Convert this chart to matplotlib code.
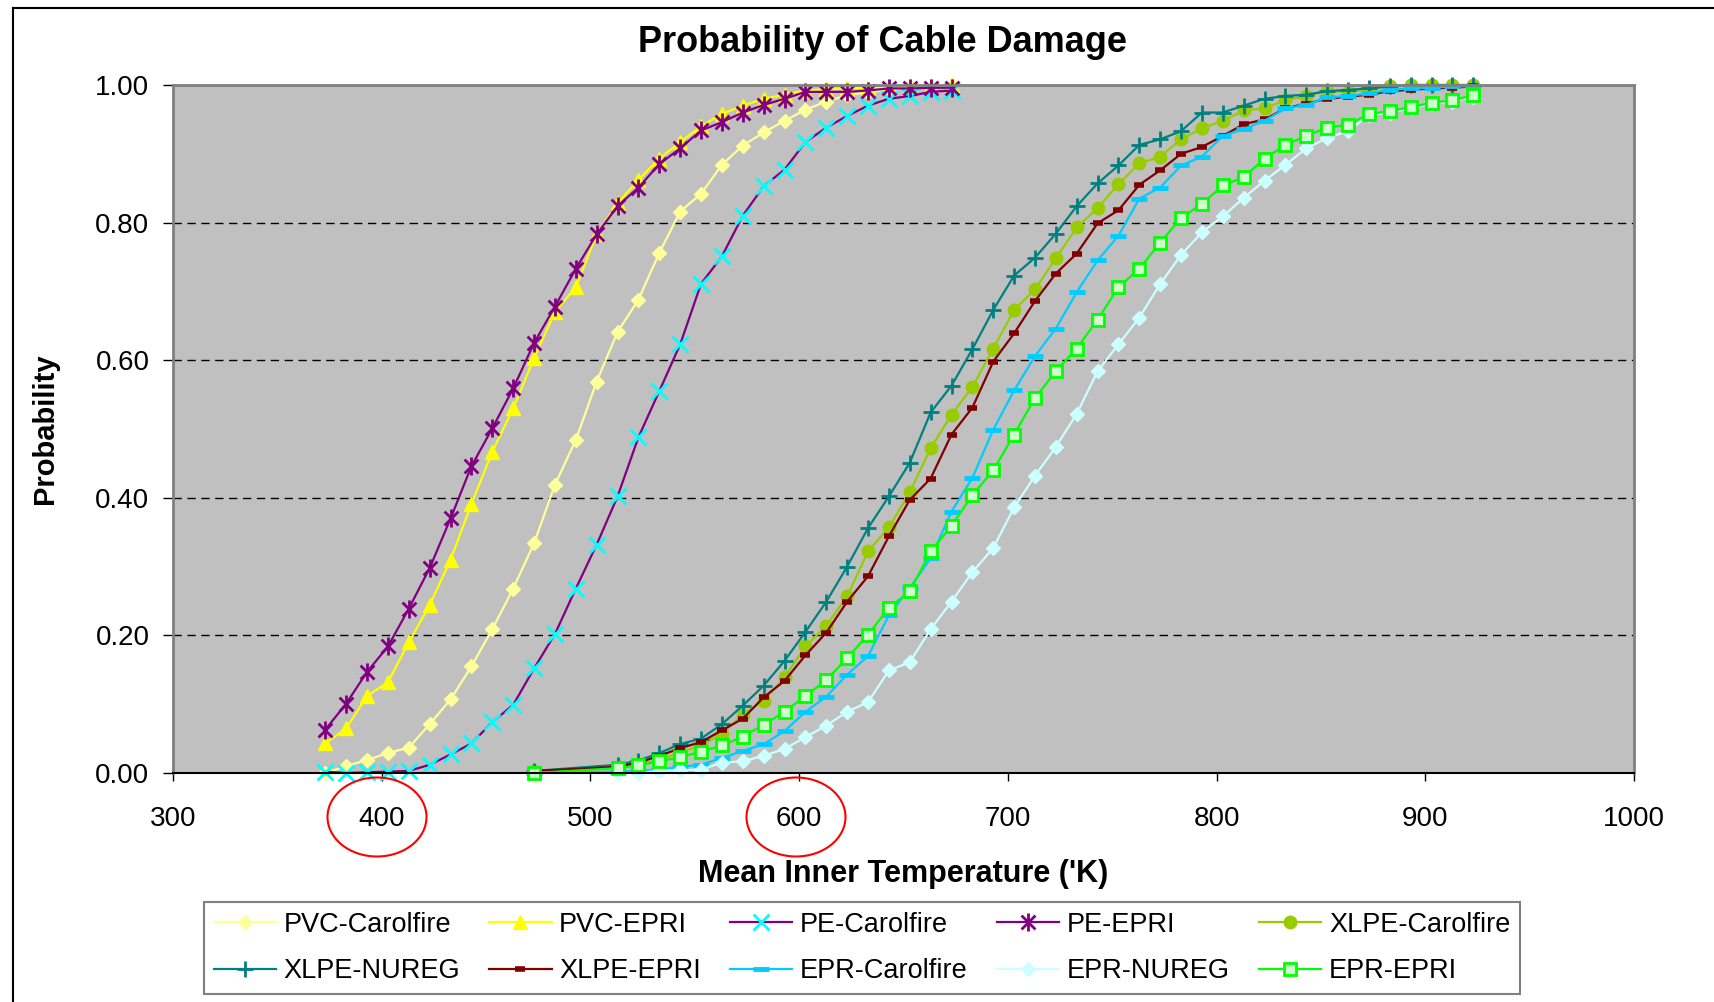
# se importan las bibliotecas
import matplotlib.pyplot as plt
from matplotlib.path import Path
from matplotlib.patches import Ellipse
from matplotlib.lines import Line2D

plt.rcParams['font.family'] = ['Liberation Sans', 'DejaVu Sans']

# temperaturas (K) de cada grupo de cables
temp_izq = list(range(373, 674, 10))
temp_der = [473] + list(range(513, 924, 10))

# probabilidades, grupo PVC / PE
pvc_carolfire = [0.0, 0.010, 0.019, 0.029, 0.037, 0.071, 0.107, 0.155, 0.209, 0.268,
                 0.334, 0.419, 0.484, 0.569, 0.641, 0.688, 0.756, 0.816, 0.842, 0.884,
                 0.912, 0.931, 0.948, 0.964, 0.976, 0.985, 0.990, 0.993, 0.996, 0.998, 1.0]
pvc_epri = [0.043, 0.065, 0.112, 0.132, 0.190, 0.244, 0.310, 0.391, 0.467, 0.530,
            0.603, 0.670, 0.706, 0.783, 0.828, 0.862, 0.893, 0.917, 0.940, 0.958,
            0.970, 0.980, 0.986, 0.992, 0.994, 0.995, 0.996, 0.997, 0.998, 0.999, 1.0]
pe_carolfire = [0.002, 0.0, 0.001, 0.002, 0.003, 0.012, 0.027, 0.043, 0.074, 0.099,
                0.152, 0.202, 0.268, 0.332, 0.402, 0.488, 0.555, 0.623, 0.711, 0.751,
                0.810, 0.853, 0.877, 0.917, 0.938, 0.955, 0.970, 0.980, 0.984, 0.990, 0.992]
pe_epri = [0.063, 0.101, 0.147, 0.184, 0.239, 0.298, 0.370, 0.446, 0.501, 0.559,
           0.625, 0.678, 0.733, 0.783, 0.824, 0.851, 0.885, 0.908, 0.934, 0.946,
           0.960, 0.971, 0.980, 0.990, 0.990, 0.990, 0.992, 0.995, 0.995, 0.996, 0.996]

# probabilidades, grupo XLPE / EPR
xlpe_carolfire = [0.003, 0.008, 0.012, 0.019, 0.030, 0.040, 0.057, 0.085, 0.105, 0.139,
                  0.184, 0.214, 0.257, 0.322, 0.357, 0.408, 0.472, 0.521, 0.561, 0.617,
                  0.673, 0.703, 0.748, 0.793, 0.821, 0.856, 0.886, 0.896, 0.921, 0.937,
                  0.948, 0.963, 0.966, 0.978, 0.984, 0.991, 0.990, 0.993, 0.998, 1.0,
                  1.0, 1.0, 1.0]
xlpe_nureg = [0.003, 0.012, 0.018, 0.029, 0.042, 0.050, 0.071, 0.098, 0.127, 0.163,
              0.205, 0.249, 0.300, 0.356, 0.402, 0.451, 0.524, 0.563, 0.616, 0.673,
              0.723, 0.749, 0.784, 0.824, 0.857, 0.883, 0.913, 0.921, 0.933, 0.960,
              0.960, 0.970, 0.980, 0.984, 0.986, 0.991, 0.993, 0.995, 0.998, 1.0,
              1.0, 1.0, 1.0]
xlpe_epri = [0.003, 0.009, 0.015, 0.025, 0.036, 0.045, 0.062, 0.079, 0.110, 0.134,
             0.171, 0.204, 0.249, 0.286, 0.344, 0.397, 0.428, 0.492, 0.531, 0.598,
             0.639, 0.686, 0.726, 0.755, 0.799, 0.818, 0.855, 0.876, 0.900, 0.910,
             0.926, 0.943, 0.950, 0.966, 0.973, 0.980, 0.983, 0.986, 0.991, 0.993,
             0.995, 0.996, 0.998]
epr_carolfire = [0.0, 0.002, 0.003, 0.005, 0.009, 0.012, 0.022, 0.032, 0.042, 0.061,
                 0.089, 0.111, 0.143, 0.170, 0.229, 0.269, 0.312, 0.380, 0.429, 0.499,
                 0.556, 0.606, 0.646, 0.699, 0.745, 0.781, 0.835, 0.851, 0.883, 0.896,
                 0.926, 0.936, 0.948, 0.966, 0.971, 0.982, 0.984, 0.988, 0.993, 0.995,
                 0.996, 0.998, 0.998]
epr_nureg = [0.0, 0.0, 0.0, 0.003, 0.004, 0.005, 0.015, 0.017, 0.025, 0.035,
             0.052, 0.069, 0.089, 0.103, 0.149, 0.161, 0.209, 0.249, 0.292, 0.327,
             0.386, 0.432, 0.474, 0.522, 0.584, 0.623, 0.662, 0.711, 0.753, 0.786,
             0.809, 0.836, 0.861, 0.884, 0.908, 0.923, 0.933, 0.956, 0.960, 0.966,
             0.973, 0.976, 0.983]
epr_epri = [0.0, 0.007, 0.011, 0.017, 0.023, 0.031, 0.040, 0.053, 0.070, 0.089,
            0.112, 0.135, 0.167, 0.201, 0.240, 0.264, 0.322, 0.359, 0.404, 0.440,
            0.492, 0.545, 0.584, 0.617, 0.659, 0.706, 0.733, 0.771, 0.807, 0.827,
            0.854, 0.866, 0.893, 0.913, 0.926, 0.938, 0.942, 0.958, 0.962, 0.968,
            0.974, 0.978, 0.985]

# marcador tipo asterisco (x con linea vertical)
asterisco = Path([(-1, -1), (1, 1), (-1, 1), (1, -1), (0, -1.3), (0, 1.3)],
                 [Path.MOVETO, Path.LINETO, Path.MOVETO, Path.LINETO,
                  Path.MOVETO, Path.LINETO])

# nombre, x, y, color de linea, marcador, tamano, relleno, borde, ancho borde
series = [
    ('PVC-Carolfire', temp_izq, pvc_carolfire, '#FFFF99', 'D', 7, '#FFFF99', '#FFFF99', 1),
    ('PVC-EPRI', temp_izq, pvc_epri, '#FFFF00', '^', 10, '#FFFF00', '#FFFF00', 1),
    ('PE-Carolfire', temp_izq, pe_carolfire, '#800080', 'x', 11, 'none', '#00FFFF', 2),
    ('PE-EPRI', temp_izq, pe_epri, '#800080', asterisco, 13, 'none', '#800080', 2),
    ('XLPE-Carolfire', temp_der, xlpe_carolfire, '#99CC00', 'o', 9, '#99CC00', '#99CC00', 1),
    ('XLPE-NUREG', temp_der, xlpe_nureg, '#008080', '+', 12, 'none', '#008080', 2),
    ('XLPE-EPRI', temp_der, xlpe_epri, '#800000', '_', 7, 'none', '#800000', 4),
    ('EPR-Carolfire', temp_der, epr_carolfire, '#00CCFF', '_', 11, 'none', '#00CCFF', 3.5),
    ('EPR-NUREG', temp_der, epr_nureg, '#CCFFFF', 'D', 7, '#CCFFFF', '#CCFFFF', 1),
    ('EPR-EPRI', temp_der, epr_epri, '#00FF00', 's', 9, '#CCFFCC', '#00FF00', 2),
]

fig = plt.figure(figsize=(17.15, 10.02), dpi=100)
ax = fig.add_axes([173 / 1715, 1 - 773 / 1002, 1461 / 1715, 688 / 1002])
ax.set_facecolor('#C0C0C0')

handles = []
for nombre, x, y, color, marca, ms, relleno, borde, mew in series:
    linea, = ax.plot(x, y, color=color, lw=1.6, marker=marca, ms=ms,
                     markerfacecolor=relleno, markeredgecolor=borde,
                     markeredgewidth=mew, label=nombre, clip_on=False)
    handles.append(linea)

# ejes y rejilla
ax.set_xlim(300, 1000)
ax.set_ylim(0, 1)
ax.set_xticks(range(300, 1001, 100))
ax.set_yticks([0, 0.2, 0.4, 0.6, 0.8, 1.0])
ax.set_yticklabels(['%.2f' % v for v in [0, 0.2, 0.4, 0.6, 0.8, 1.0]])
for v in [0.2, 0.4, 0.6, 0.8]:
    ax.axhline(v, color='black', lw=1, ls=(0, (6, 4)), zorder=1)
for lado in ['top', 'right', 'left']:
    ax.spines[lado].set_color('#808080')
    ax.spines[lado].set_linewidth(2)
ax.spines['bottom'].set_color('black')
ax.spines['bottom'].set_linewidth(1.5)
ax.tick_params(axis='x', length=6, width=1, pad=18, labelsize=20)
ax.tick_params(axis='y', length=7, width=1, pad=10, labelsize=20)

# titulo y etiquetas
fig.text(883 / 1715, 1 - 43 / 1002, 'Probability of Cable Damage', ha='center',
         va='center', fontsize=26, fontweight='bold')
ax.set_xlabel("Mean Inner Temperature ('K)", fontsize=22, fontweight='bold',
              labelpad=19)
ax.set_ylabel('Probability', fontsize=21, fontweight='bold', labelpad=26)

# leyenda en dos filas
orden = [0, 5, 1, 6, 2, 7, 3, 8, 4, 9]
leg = fig.legend([handles[i] for i in orden], [series[i][0] for i in orden],
                 loc='center', bbox_to_anchor=(862 / 1715, 1 - 948 / 1002),
                 ncol=5, fontsize=19.5, frameon=True, fancybox=False,
                 handlelength=2.3, handletextpad=0.28, columnspacing=1.08,
                 labelspacing=0.75, borderpad=0.35)
leg.get_frame().set_edgecolor('#606060')
leg.get_frame().set_linewidth(1.5)

# circulos rojos sobre 400 y 600
for cx in [377, 796]:
    fig.patches.append(Ellipse((cx / 1715, 1 - 817 / 1002), 99 / 1715, 79 / 1002,
                               transform=fig.transFigure, fill=False,
                               edgecolor='red', lw=1.5))

# marco de la figura
fig.add_artist(Line2D([13 / 1715, 13 / 1715], [0, 1 - 8 / 1002], color='black', lw=1.5))
fig.add_artist(Line2D([13 / 1715, 1], [1 - 8 / 1002, 1 - 8 / 1002], color='black', lw=1.5))

fig.savefig('out.png', dpi=100)
